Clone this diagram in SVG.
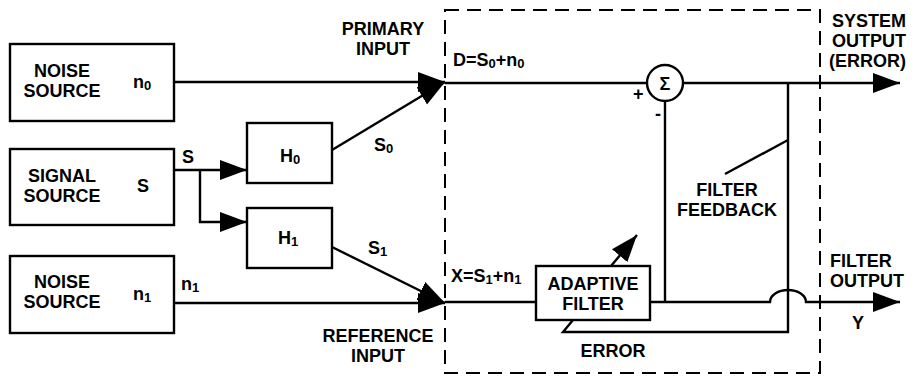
<svg xmlns="http://www.w3.org/2000/svg" width="913" height="376" viewBox="0 0 913 376">
<defs>
<style>
.box{fill:#fff;stroke:#000;stroke-width:2.4}
.ln{fill:none;stroke:#000;stroke-width:2.4}
.t{font-family:"Liberation Sans",Arial,sans-serif;font-weight:bold;font-size:18px;fill:#000}
.c{text-anchor:middle}
.sub{font-size:13px}
</style>
<marker id="ah" markerUnits="userSpaceOnUse" markerWidth="28" markerHeight="22" refX="27" refY="11" orient="auto">
<path d="M0,1 L27,11 L0,21 z" fill="#000"/>
</marker>
</defs>
<rect x="445" y="10" width="375" height="363" fill="none" stroke="#000" stroke-width="2" stroke-dasharray="14,8"/>
<g id="noise0"><rect class="box" x="10" y="44" width="164" height="77"/>
<text class="t c" x="62" y="77">NOISE</text><text class="t c" x="62" y="97">SOURCE</text>
<text class="t" x="133" y="88">n<tspan class="sub" dy="2">0</tspan></text></g>
<g id="signal"><rect class="box" x="10" y="149" width="164" height="76"/>
<text class="t c" x="62" y="182">SIGNAL</text><text class="t c" x="62" y="202">SOURCE</text>
<text class="t" x="137" y="192">S</text></g>
<g id="noise1"><rect class="box" x="10" y="256" width="164" height="77"/>
<text class="t c" x="62" y="288">NOISE</text><text class="t c" x="62" y="308">SOURCE</text>
<text class="t" x="133" y="300">n<tspan class="sub" dy="2">1</tspan></text></g>
<g id="h0"><rect class="box" x="247" y="123" width="85" height="60"/>
<text class="t" x="280" y="162">H<tspan class="sub" dy="2">0</tspan></text></g>
<g id="h1"><rect class="box" x="247" y="208" width="85" height="60"/>
<text class="t" x="278" y="244">H<tspan class="sub" dy="2">1</tspan></text></g>
<g id="sum"><circle cx="665" cy="83" r="18" fill="#fff" stroke="#000" stroke-width="2.4"/>
<text class="t c" x="665" y="90" font-size="21">Σ</text></g>
<g id="adaptive"><rect class="box" x="536" y="266" width="114" height="54"/>
<text class="t c" x="593" y="290">ADAPTIVE</text><text class="t c" x="593" y="310">FILTER</text></g>
<g id="connectors">
<path class="ln" d="M174,82 H445" marker-end="url(#ah)"/>
<path class="ln" d="M332,150 L445,82" marker-end="url(#ah)"/>
<path class="ln" d="M174,170 H247" marker-end="url(#ah)"/>
<path class="ln" d="M200,170 V222 H247" marker-end="url(#ah)"/>
<path class="ln" d="M332,247 L445,303" marker-end="url(#ah)"/>
<path class="ln" d="M174,303 H445" marker-end="url(#ah)"/>
<path class="ln" d="M445,83 H647"/>
<path class="ln" d="M683,83 H900" marker-end="url(#ah)"/>
<path class="ln" d="M445,302 H536"/>
<path class="ln" d="M650,302 H770 A18,12 0 0 1 806,302 H900" marker-end="url(#ah)"/>
<path class="ln" d="M665,101 V302"/>
<path class="ln" d="M788,83 V332 H563 L573,320"/>
<path class="ln" d="M725,174 L788,140"/>
<path class="ln" d="M611,266 L637,235" marker-end="url(#ah)"/>
</g>
<g id="labels">
<text class="t c" x="383" y="35">PRIMARY</text><text class="t c" x="383" y="55">INPUT</text>
<text class="t" x="182" y="163">S</text>
<text class="t" x="374" y="151">S<tspan class="sub" dy="2">0</tspan></text>
<text class="t" x="368" y="254">S<tspan class="sub" dy="2">1</tspan></text>
<text class="t" x="181" y="290">n<tspan class="sub" dy="2">1</tspan></text>
<text class="t c" x="378" y="342">REFERENCE</text><text class="t c" x="378" y="362">INPUT</text>
<text class="t" x="453" y="66">D=S<tspan class="sub" dy="2">0</tspan><tspan dy="-2">+n</tspan><tspan class="sub" dy="2">0</tspan></text>
<text class="t" x="451" y="282">X=S<tspan class="sub" dy="2">1</tspan><tspan dy="-2">+n</tspan><tspan class="sub" dy="2">1</tspan></text>
<text class="t" x="633" y="100">+</text>
<text class="t" x="655" y="120">-</text>
<text class="t c" x="727" y="196">FILTER</text><text class="t c" x="727" y="216">FEEDBACK</text>
<text class="t c" x="613" y="357">ERROR</text>
<text class="t" x="832" y="27">SYSTEM</text><text class="t" x="832" y="47">OUTPUT</text><text class="t" x="829" y="67">(ERROR)</text>
<text class="t" x="830" y="267">FILTER</text><text class="t" x="830" y="287">OUTPUT</text>
<text class="t" x="852" y="329">Y</text>
</g>
</svg>
